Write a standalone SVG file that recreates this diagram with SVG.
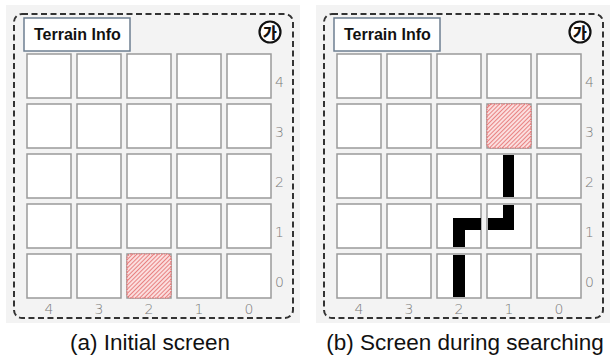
<svg xmlns="http://www.w3.org/2000/svg" width="610" height="359" viewBox="0 0 610 359">
  <defs>
    <pattern id="hatch" width="3" height="3" patternUnits="userSpaceOnUse" patternTransform="rotate(45)">
      <rect width="3" height="3" fill="#fbdede"/>
      <line x1="0" y1="0" x2="0" y2="3" stroke="#e05a5a" stroke-width="1.4"/>
    </pattern>
    <style>
      .bg { fill: #f3f3f3; }
      .frame { fill: none; stroke: #333; stroke-width: 2; stroke-dasharray: 6 3.5; }
      .title-box { fill: #fff; stroke: #6e7f91; stroke-width: 1.5; }
      .title { font-family: "Liberation Sans", Arial, sans-serif; font-weight: bold; font-size: 16px; fill: #111; }
      .cell { fill: #fff; stroke: #9a9a9a; stroke-width: 1.5; }
      .goal { fill: url(#hatch); stroke: #e07070; stroke-width: 1.2; stroke-dasharray: 1.5 1; }
      .axis { font-family: "DejaVu Sans", "Liberation Sans", sans-serif; font-size: 14px; fill: #7a7a7a; font-weight: 300; }
      .badge { fill: #fff; stroke: #111; stroke-width: 2.2; }
      .badge-text { font-family: "Noto Sans CJK KR", "Noto Sans", sans-serif; font-weight: 900; font-size: 15px; fill: #111; }
      .caption { font-family: "Liberation Sans", Arial, sans-serif; font-size: 22.5px; fill: #111; }
      .route { fill: #000; }
    </style>
    <g id="grid">
      <rect class="cell" x="27" y="54" width="44" height="44"/>
      <rect class="cell" x="77" y="54" width="44" height="44"/>
      <rect class="cell" x="127" y="54" width="44" height="44"/>
      <rect class="cell" x="177" y="54" width="44" height="44"/>
      <rect class="cell" x="227" y="54" width="44" height="44"/>
      <rect class="cell" x="27" y="104" width="44" height="44"/>
      <rect class="cell" x="77" y="104" width="44" height="44"/>
      <rect class="cell" x="127" y="104" width="44" height="44"/>
      <rect class="cell" x="177" y="104" width="44" height="44"/>
      <rect class="cell" x="227" y="104" width="44" height="44"/>
      <rect class="cell" x="27" y="154" width="44" height="44"/>
      <rect class="cell" x="77" y="154" width="44" height="44"/>
      <rect class="cell" x="127" y="154" width="44" height="44"/>
      <rect class="cell" x="177" y="154" width="44" height="44"/>
      <rect class="cell" x="227" y="154" width="44" height="44"/>
      <rect class="cell" x="27" y="204" width="44" height="44"/>
      <rect class="cell" x="77" y="204" width="44" height="44"/>
      <rect class="cell" x="127" y="204" width="44" height="44"/>
      <rect class="cell" x="177" y="204" width="44" height="44"/>
      <rect class="cell" x="227" y="204" width="44" height="44"/>
      <rect class="cell" x="27" y="254" width="44" height="44"/>
      <rect class="cell" x="77" y="254" width="44" height="44"/>
      <rect class="cell" x="127" y="254" width="44" height="44"/>
      <rect class="cell" x="177" y="254" width="44" height="44"/>
      <rect class="cell" x="227" y="254" width="44" height="44"/>
    </g>
    <g id="frame">
      <rect class="bg" x="6" y="5" width="294" height="318"/>
      <rect class="frame" x="14" y="14" width="279" height="304" rx="8"/>
      <rect class="title-box" x="24" y="18" width="106" height="33"/>
      <text class="title" x="34" y="40">Terrain Info</text>
      <circle class="badge" cx="270" cy="32" r="10.5"/>
      <text class="badge-text" x="270" y="37.5" text-anchor="middle">가</text>
      <g class="axis">
        <text x="275" y="87">4</text>
        <text x="275" y="137">3</text>
        <text x="275" y="187">2</text>
        <text x="275" y="237">1</text>
        <text x="275" y="287">0</text>
        <text x="49" y="314" text-anchor="middle">4</text>
        <text x="99" y="314" text-anchor="middle">3</text>
        <text x="149" y="314" text-anchor="middle">2</text>
        <text x="199" y="314" text-anchor="middle">1</text>
        <text x="249" y="314" text-anchor="middle">0</text>
      </g>
    </g>
  </defs>

  <rect width="610" height="359" fill="#fff"/>

  <!-- (a) initial screen -->
  <g id="panel-a">
    <use href="#frame"/>
    <use href="#grid"/>
    <rect id="goal-a" class="goal" x="127" y="254" width="44" height="44" rx="4"/>
    <text class="caption" x="150" y="350" text-anchor="middle">(a) Initial screen</text>
  </g>

  <!-- (b) screen during searching -->
  <g id="panel-b" transform="translate(310,0)">
    <use href="#frame"/>
    <use href="#grid"/>
    <rect id="goal-b" class="goal" x="177" y="104" width="44" height="44" rx="4"/>
  </g>

  <!-- route drawn so far, piece by piece inside each cell -->
  <g id="connectors">
    <rect class="route" x="503" y="155" width="11" height="42"/>
    <polygon class="route" points="503,205 514,205 514,230 488,230 488,218 503,218"/>
    <polygon class="route" points="453,218 481,218 481,230 465,230 465,247 453,247"/>
    <rect class="route" x="453" y="255" width="12" height="42"/>
  </g>

  <text class="caption" x="465" y="350" text-anchor="middle">(b) Screen during searching</text>
</svg>
